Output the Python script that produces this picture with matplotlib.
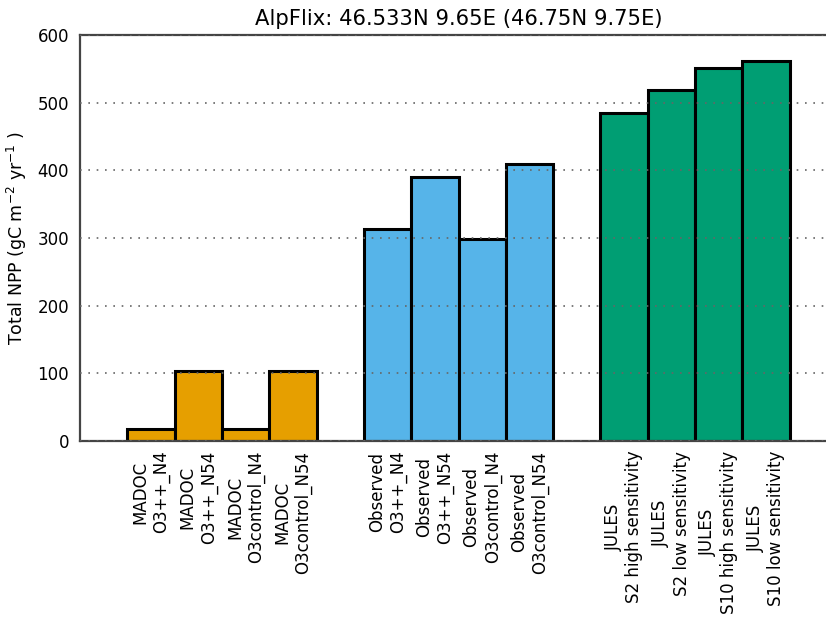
import matplotlib
matplotlib.use("Agg")
import matplotlib.pyplot as plt
import numpy as np

plt.rcParams['font.family'] = ['DejaVu Sans']
plt.rcParams['mathtext.fontset'] = 'dejavusans'

madoc_labels = ["MADOC\nO3++_N4", "MADOC\nO3++_N54",
                "MADOC\nO3control_N4", "MADOC\nO3control_N54"]
madoc_values = [18, 104, 18, 104]

obs_labels = ["Observed\nO3++_N4", "Observed\nO3++_N54",
              "Observed\nO3control_N4", "Observed\nO3control_N54"]
obs_values = [313, 390, 298, 410]

jules_labels = ["JULES\nS2 high sensitivity", "JULES\nS2 low sensitivity",
                "JULES\nS10 high sensitivity", "JULES\nS10 low sensitivity"]
jules_values = [484, 518, 551, 561]

groups = [
    (madoc_labels, madoc_values, "#E69F00"),
    (obs_labels, obs_values, "#56B4E9"),
    (jules_labels, jules_values, "#009E73"),
]

W, H = 826, 621
fig = plt.figure(figsize=(W / 100, H / 100), dpi=100)
ax_left, ax_right, ax_top, ax_bottom = 80, 837, 35, 441
ax = fig.add_axes([ax_left / W, 1 - ax_bottom / H,
                   (ax_right - ax_left) / W, (ax_bottom - ax_top) / H])

ticks, ticklabels = [], []
start = 0
for labels, values, color in groups:
    x = start + np.arange(len(values))
    ax.bar(x, values, width=1.0, align='edge', color=color,
           edgecolor='black', linewidth=2.2, zorder=1)
    ticks.extend(x + 0.5)
    ticklabels.extend(labels)
    start += len(values) + 1

ax.set_xlim(-1, 15)
ax.set_ylim(0, 600)
ax.set_yticks([0, 100, 200, 300, 400, 500, 600])
ax.set_xticks(ticks)
ax.set_xticklabels(ticklabels, rotation=90, fontsize=12)
ax.tick_params(axis='both', length=0)
ax.tick_params(axis='x', pad=7)
ax.tick_params(axis='y', labelsize=12, pad=8)
ax.yaxis.grid(True, linestyle=(0, (1, 4)), color='#666666', linewidth=1.2, zorder=3)
ax.set_axisbelow(False)

for side in ['left', 'bottom', 'top']:
    ax.spines[side].set_color('#444444')
    ax.spines[side].set_linewidth(1.6)
ax.spines['right'].set_visible(False)

ax.set_ylabel(r"Total NPP (gC m$^{-2}$ yr$^{-1}$ )", fontsize=12.5, labelpad=6)
ax.set_title("AlpFlix: 46.533N 9.65E (46.75N 9.75E)", fontsize=15.2, pad=7)

fig.savefig("out.png", dpi=100)
